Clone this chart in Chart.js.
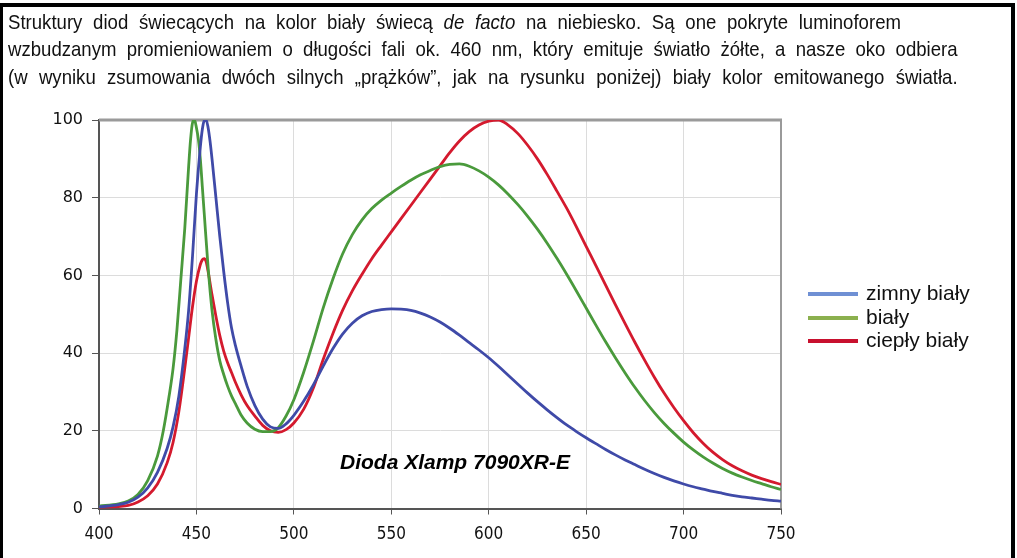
<!DOCTYPE html>
<html><head><meta charset="utf-8">
<script src="https://cdn.jsdelivr.net/npm/chart.js@4"></script>
<style>
html,body{margin:0;padding:0;background:#fff;width:1017px;height:558px;overflow:hidden;position:relative;}
#c{position:absolute;left:0;top:0;}
#frame{position:absolute;left:0;top:3px;width:1008px;height:600px;border-left:3px solid #000;border-top:4px solid #000;border-right:4px solid #000;pointer-events:none;}
.ln{position:absolute;left:8px;height:24px;line-height:24px;font-family:"Liberation Sans",Arial,sans-serif;font-size:21px;color:#111;text-align:justify;text-align-last:justify;transform:scaleX(0.885);transform-origin:0 0;}
.leg{position:absolute;left:808px;width:50px;height:4px;}
.legt{position:absolute;left:866px;font-family:"Liberation Sans",Arial,sans-serif;font-size:21px;line-height:23px;color:#111;white-space:nowrap;}
#note{position:absolute;left:340px;top:450px;font-family:"Liberation Sans",Arial,sans-serif;font-weight:bold;font-style:italic;font-size:21px;line-height:24px;color:#000;white-space:nowrap;}
</style></head>
<body>
<canvas id="c" width="1017" height="558"></canvas>
<div id="frame"></div>
<div class="ln" style="top:10px;width:1009px">Struktury diod świecących na kolor biały świecą <i>de facto</i> na niebiesko. Są one pokryte luminoforem</div>
<div class="ln" style="top:37px;width:1073px">wzbudzanym promieniowaniem o długości fali ok. 460 nm, który emituje światło żółte, a nasze oko odbiera</div>
<div class="ln" style="top:65px;width:1073px">(w wyniku zsumowania dwóch silnych „prążków”, jak na rysunku poniżej) biały kolor emitowanego światła.</div>
<div class="leg" style="top:292px;background:#6f90d4"></div>
<div class="leg" style="top:316px;background:#8bb04e"></div>
<div class="leg" style="top:339px;background:#c8102e"></div>
<div class="legt" style="top:281px">zimny biały</div>
<div class="legt" style="top:305px">biały</div>
<div class="legt" style="top:328px">ciepły biały</div>
<div id="note">Dioda Xlamp 7090XR-E</div>
<script>
const seriesNames = ["zimny biały", "biały", "ciepły biały"];
const xTicks = [400, 450, 500, 550, 600, 650, 700, 750];
const yTicks = [0, 20, 40, 60, 80, 100];

const blueNm = [400,410,415,420,425,430,435,438,441,444,446,448,450,452,453,454,455,456,457,458,460,462,464,466,468,470,473,476,480,484,488,492,496,500,
  505,510,515,520,525,530,535,540,545,550,555,560,565,570,575,580,585,590,595,600,605,610,615,620,625,630,635,640,645,650,
  655,660,665,670,675,680,685,690,695,700,705,710,715,720,725,730,735,740,745,750];
const blueVal = [0.4,1.0,1.6,2.9,5.3,9.3,15.5,21,29,41,51,65,81,93,97.5,99.8,100,98,94.5,90,80,70,61,53,46.5,42,36.5,31.5,26.5,23,21,20.6,21.8,24,
  27.6,31.8,36.6,41.1,44.9,47.7,49.6,50.7,51.2,51.4,51.3,51,50.3,49.3,48,46.4,44.6,42.7,40.8,38.8,36.6,34.3,32,29.7,27.5,25.4,23.4,21.5,19.8,18.2,
  16.7,15.2,13.8,12.5,11.3,10.1,9,8,7.1,6.3,5.6,5,4.4,3.9,3.4,3,2.7,2.4,2.1,1.9];

const greenNm = [400,410,415,420,425,430,433,436,438,440,442,444,446,447,448,449,450,451,452,453,454,456,458,460,462,464,466,468,470,473,476,480,484,488,492,496,500,
  505,510,515,520,525,530,535,540,545,550,555,560,565,570,575,580,585,590,595,600,605,610,615,620,625,630,635,640,645,650,
  655,660,665,670,675,680,685,690,695,700,705,710,715,720,725,730,735,740,745,750];
const greenVal = [0.6,1.2,1.9,3.6,7.2,13.5,20,29,36,46,59,72,88,95,99.3,100,98,95,90,83,76,62,51,43.5,38,34.5,31.5,29,27,24,22,20.4,19.8,19.8,20.8,23.8,28,
  35,43,51.5,59,65.5,70.5,74.3,77.2,79.4,81.2,82.9,84.5,85.9,87,88,88.6,88.7,88.1,86.9,85.3,83.3,80.9,78.2,75.2,71.9,68.3,64.4,60.3,56,51.6,
  47.2,42.9,38.8,34.9,31.2,27.8,24.7,21.9,19.4,17.1,15.1,13.3,11.7,10.3,9.1,8.1,7.2,6.4,5.6,4.9];

const redNm = [400,410,415,420,425,430,435,438,441,444,446,448,450,452,453,454,455,456,458,460,462,464,466,468,470,473,476,480,484,488,492,496,500,
  505,510,515,520,525,530,535,540,545,550,555,560,565,570,575,580,585,590,595,600,605,610,615,620,625,630,635,640,645,650,
  655,660,665,670,675,680,685,690,695,700,705,710,715,720,725,730,735,740,745,750];
const redVal = [0.2,0.5,0.8,1.7,3.3,6.3,11.8,17,25,36,44,52,58.5,62.8,64,64.3,63.5,61,55,49.5,44.5,40.5,37.5,35,32.5,29.2,26.5,23.8,21.4,20,19.6,20.3,22,
  25.5,31,38.3,45,51,56,60.3,64.3,67.8,71.2,74.6,78,81.4,84.8,88.2,91.6,94.6,97,98.7,99.7,100,98.7,96.5,93.5,90,86,81.7,77.3,72.5,67.5,
  62.5,57.5,52.5,47.6,42.8,38.2,33.8,29.7,26,22.6,19.5,16.8,14.5,12.6,11,9.7,8.6,7.7,6.9,6.2];

const pts = (xs, ys) => xs.map((x, i) => ({x: x, y: ys[i]}));

const frameLines = {
  id: 'frameLines',
  beforeDatasetsDraw(chart) {
    const a = chart.chartArea, ctx = chart.ctx;
    ctx.save();
    ctx.strokeStyle = '#9a9a9a';
    ctx.lineWidth = 3;
    ctx.beginPath(); ctx.moveTo(a.left, a.top); ctx.lineTo(a.right + 1, a.top); ctx.stroke();
    ctx.lineWidth = 2;
    ctx.beginPath(); ctx.moveTo(a.right, a.top); ctx.lineTo(a.right, a.bottom); ctx.stroke();
    ctx.restore();
  }
};

const ds = (label, xs, ys, color) => ({
  label, data: pts(xs, ys), borderColor: color, backgroundColor: color,
  borderWidth: 2.8, pointRadius: 0, fill: false, cubicInterpolationMode: 'monotone'
});

new Chart(document.getElementById('c'), {
  type: 'line',
  data: {
    datasets: [
      ds(seriesNames[0], blueNm, blueVal, '#3f4aa8'),
      ds(seriesNames[1], greenNm, greenVal, '#4a9a3c'),
      ds(seriesNames[2], redNm, redVal, '#d41a2e')
    ]
  },
  options: {
    responsive: false,
    animation: false,
    devicePixelRatio: 1,
    layout: { padding: { left: 49, top: 120, right: 236, bottom: 9.5 } },
    plugins: { legend: { display: false }, tooltip: { enabled: false } },
    scales: {
      x: {
        type: 'linear', min: xTicks[0], max: xTicks[xTicks.length - 1],
        afterBuildTicks: s => { s.ticks = xTicks.map(v => ({value: v})); },
        afterFit: s => { s.height = 40; },
        grid: { color: '#dcdcdc', lineWidth: 1, tickColor: '#555', tickLength: 6 },
        border: { color: '#555', width: 2 },
        ticks: { color: '#111', padding: 10, font: { family: 'DejaVu Sans Condensed', size: 17 } }
      },
      y: {
        min: yTicks[0], max: yTicks[yTicks.length - 1],
        afterBuildTicks: s => { s.ticks = yTicks.map(v => ({value: v})); },
        afterFit: s => { s.width = 50; },
        grid: { color: '#dcdcdc', lineWidth: 1, tickColor: '#555', tickLength: 7 },
        border: { color: '#555', width: 2 },
        ticks: { color: '#111', padding: 9, font: { family: 'DejaVu Sans', size: 16 } }
      }
    }
  },
  plugins: [frameLines]
});
</script>
</body></html>
